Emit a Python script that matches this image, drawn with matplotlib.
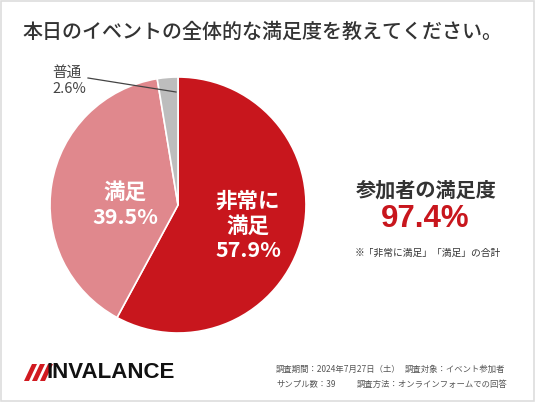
import matplotlib
matplotlib.use("Agg")
import matplotlib.pyplot as plt
from matplotlib.patches import Polygon, Rectangle

plt.rcParams['font.family'] = ['Noto Sans CJK JP', 'DejaVu Sans']

title = "本日のイベントの全体的な満足度を教えてください。"
categories = ["非常に\n満足", "満足", "普通"]
values = [57.9, 39.5, 2.6]
colors = ["#C8161D", "#E0888D", "#BDBDBD"]
total_label = "参加者の満足度"
total_value = "97.4%"
note = "※「非常に満足」「満足」の合計"
footer_lines = [("調査期間：2024年7月27日（土）", "調査対象：イベント参加者"),
                ("サンプル数：39", "調査方法：オンラインフォームでの回答")]
logo = "INVALANCE"

W, H = 536, 403
fig = plt.figure(figsize=(W / 100, H / 100), dpi=100)
fig.patch.set_facecolor("white")

def fx(x):
    return x / W

def fy(y):
    return 1 - y / H

# border
fig.patches.append(Rectangle((fx(1), fy(401)), fx(533), 400 / H, transform=fig.transFigure,
                             fill=False, edgecolor="#DDDDDD", linewidth=1.2))

fig.text(fx(22), fy(32), title, fontsize=14.4, color="#333333", va="center", ha="left",
         fontweight="medium")

# pie
cx, cy, r = 178, 205, 128
ax = fig.add_axes([fx(cx - r), fy(cy + r), fx(2 * r), (2 * r) / H])
wedges, _ = ax.pie(values, colors=colors, startangle=90, counterclock=False,
                   wedgeprops=dict(edgecolor="white", linewidth=1.2), radius=1)
ax.set_xlim(-1, 1)
ax.set_ylim(-1, 1)
ax.set_aspect("equal")
ax.axis("off")

def to_data(px, py):
    return ((px - cx) / r, (cy - py) / r)

x0, y0 = to_data(248, 226)
ax.text(x0, y0, f"{categories[0]}\n{values[0]}%", color="white", fontsize=15.5,
        ha="center", va="center", linespacing=1.2, fontweight="bold")
x1, y1 = to_data(125, 205)
ax.text(x1, y1, f"{categories[1]}\n{values[1]}%", color="white", fontsize=15.5,
        ha="center", va="center", linespacing=1.2, fontweight="bold")

# outside label for 普通
fig.text(fx(52), fy(81), f"{categories[2]}\n{values[2]}%", fontsize=10.5, color="#444444",
         ha="left", va="center", linespacing=1.2)
lx0, ly0 = to_data(88, 78)
lx1, ly1 = to_data(176, 92)
ax.plot([lx0, lx1], [ly0, ly1], color="#444444", linewidth=0.9, clip_on=False)

# right summary
fig.text(fx(426), fy(190), total_label, fontsize=14.5, color="#333333", ha="center", va="center",
         fontweight="bold")
fig.text(fx(425), fy(219), total_value, fontsize=22.5, color="#C8161D", ha="center", va="center",
         fontweight="bold", family=["Liberation Sans", "DejaVu Sans"])
fig.text(fx(428), fy(253), note, fontsize=7, color="#333333", ha="center", va="center")

# logo
for i in range(3):
    x = 24 + i * 8
    poly = Polygon([(fx(x), fy(381)), (fx(x + 5), fy(381)), (fx(x + 13), fy(364)), (fx(x + 8), fy(364))],
                   closed=True, transform=fig.transFigure, facecolor="#D11A20", edgecolor="none")
    fig.patches.append(poly)
fig.text(fx(46), fy(373), logo, fontsize=16, fontweight="bold", color="#111111",
         ha="left", va="center", family=["Liberation Sans", "DejaVu Sans"])

# footer
col2 = [405, 357]
for i, (a, b) in enumerate(footer_lines):
    y = 369 + i * 15
    fig.text(fx(276), fy(y), a, fontsize=6.0, color="#555555", ha="left", va="center")
    fig.text(fx(col2[i]), fy(y), b, fontsize=6.0, color="#555555", ha="left", va="center")

fig.savefig("out.png", dpi=100, facecolor="white")
